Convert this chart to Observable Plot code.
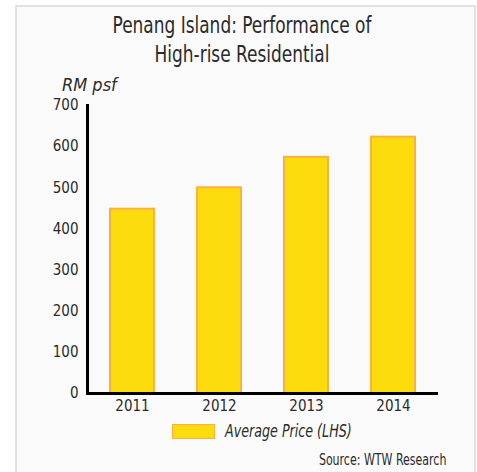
<!DOCTYPE html>
<html>
<head>
<meta charset="utf-8">
<script src="https://cdn.jsdelivr.net/npm/d3@7"></script>
<script src="https://cdn.jsdelivr.net/npm/@observablehq/plot@0.6"></script>
<style>
  html, body { margin: 0; padding: 0; background: #fff; width: 477px; height: 472px; overflow: hidden; }
  body { position: relative; font-family: "DejaVu Sans Condensed", "DejaVu Sans", sans-serif; font-stretch: condensed; color: #2b2b2b; }
  #panel { position: absolute; left: 15px; top: 5px; width: 461px; height: 480px; box-sizing: border-box;
           border: 2.5px solid #e1e1e1; background: #fafafa; }
  #title { position: absolute; left: 0; width: 484px; top: 11px; text-align: center; font-size: 23px; line-height: 29px;
           color: #2b2b2b; transform: scaleX(0.82); transform-origin: 242px 0; }
  #unit { position: absolute; left: 62px; top: 74px; font-size: 18px; font-style: italic; }
  #chart { position: absolute; left: 0; top: 0; }
  #legend { position: absolute; left: 172px; top: 421px; display: flex; align-items: center; }
  #legend .sw { width: 41px; height: 13px; background: #fcdc0c; border: 1.5px solid #fbb040; }
  #legend .lb { margin-left: 10px; font-size: 17px; font-style: italic; transform: scaleX(0.83); transform-origin: 0 50%; white-space: nowrap; }
  #source { position: absolute; right: 31px; top: 451px; font-size: 15.5px; transform: scaleX(0.79); transform-origin: 100% 50%; white-space: nowrap; }
</style>
</head>
<body>
<div id="panel"></div>
<div id="chart"></div>
<div id="title">Penang Island: Performance of<br>High-rise Residential</div>
<div id="unit">RM psf</div>
<div id="legend"><div class="sw"></div><div class="lb">Average Price (LHS)</div></div>
<div id="source">Source: WTW Research</div>
<script>
const years = ["2011", "2012", "2013", "2014"];
const avgPrice = [448, 500, 574, 623];
const yTicks = [0, 100, 200, 300, 400, 500, 600, 700];

const data = years.map((y, i) => ({year: y, price: avgPrice[i]}));

const chart = Plot.plot({
  width: 477,
  height: 472,
  marginLeft: 87,
  marginRight: 39,
  marginTop: 105,
  marginBottom: 79,
  style: {background: "transparent", fontFamily: '"DejaVu Sans Condensed", "DejaVu Sans", sans-serif', color: "#2b2b2b"},
  x: {domain: years, paddingInner: 0.49, paddingOuter: 0.245},
  y: {domain: [0, 700]},
  marks: [
    Plot.barY(data, {x: "year", y: "price", fill: "#fcdc0c", stroke: "#fbb040", strokeWidth: 2}),
    Plot.axisY({ticks: yTicks, tickSize: 0, tickPadding: 9, fontSize: 15, label: null}),
    Plot.axisX({tickSize: 0, tickPadding: 7, fontSize: 15, label: null}),
    Plot.frame({anchor: "left", stroke: "#000", strokeWidth: 3}),
    Plot.ruleY([0], {stroke: "#000", strokeWidth: 3})
  ]
});
chart.querySelectorAll("text").forEach(t => t.style.fontStretch = "condensed");
document.getElementById("chart").appendChild(chart);
</script>
</body>
</html>
